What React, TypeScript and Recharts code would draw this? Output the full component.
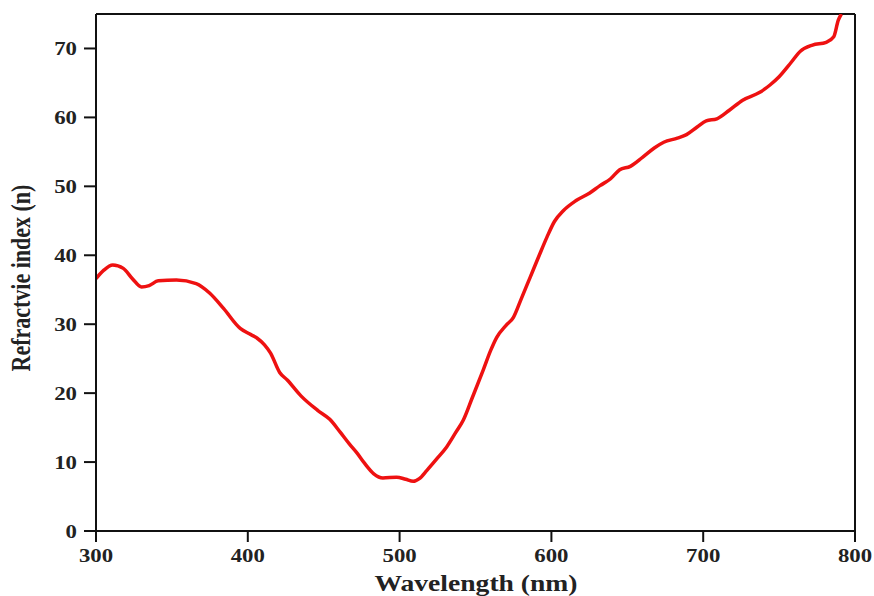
import React from 'react';
import { LineChart, Line, XAxis, YAxis, ReferenceLine } from 'recharts';

const wavelength = [
  300, 305, 311, 318, 324, 330, 335, 341, 353, 366, 375, 384, 395, 401, 406, 411, 415, 421, 426, 435,
  446, 454, 461, 467, 472, 477, 483, 489, 498, 504, 509, 513, 518, 525, 531, 537, 542, 548, 555, 560,
  564, 570, 575, 580, 586, 592, 597, 602, 608, 616, 625, 632, 639, 645, 652, 660, 668, 674, 683, 689,
  696, 702, 709, 717, 726, 737, 744, 750, 758, 764, 772, 781, 786, 789, 791,
];

const refractiveIndex = [
  36.6, 37.8, 38.6, 38.1, 36.6, 35.4, 35.6, 36.3, 36.4, 35.9, 34.5, 32.3, 29.4, 28.6, 28.0, 27.0, 25.8, 23.0, 21.9, 19.6,
  17.5, 16.2, 14.3, 12.6, 11.3, 9.8, 8.3, 7.7, 7.8, 7.5, 7.2, 7.6, 8.8, 10.6, 12.2, 14.3, 16.1, 19.4, 23.3, 26.2,
  28.1, 29.8, 31.0, 33.6, 36.8, 40.0, 42.6, 44.9, 46.5, 47.9, 49.0, 50.1, 51.1, 52.4, 52.9, 54.2, 55.6, 56.4, 57.0, 57.5,
  58.6, 59.5, 59.8, 61.0, 62.5, 63.6, 64.7, 65.9, 68.0, 69.6, 70.5, 70.9, 71.7, 74.1, 75.0,
];

const xTicks = [300, 400, 500, 600, 700, 800];
const yTicks = [0, 10, 20, 30, 40, 50, 60, 70];

const xTitle = 'Wavelength (nm)';
const yTitle = 'Refractvie index (n)';

const data = wavelength.map((w, i) => ({ w, n: refractiveIndex[i] }));

const font = '"Liberation Serif", "Times New Roman", serif';
const ink = '#222';

// the source image is stretched ~1.2x horizontally, so the text is too
const XTick = (props: any) => {
  const { x, y, payload } = props;
  return (
    <text
      transform={`translate(${x},${y}) scale(1.2,1)`}
      textAnchor="middle"
      dy="0.72em"
      fontFamily={font}
      fontWeight={700}
      fontSize={19}
      fill={ink}
    >
      {payload.value}
    </text>
  );
};

const YTick = (props: any) => {
  const { x, y, payload } = props;
  return (
    <text
      transform={`translate(${x},${y}) scale(1.2,1)`}
      textAnchor="end"
      dy="0.36em"
      fontFamily={font}
      fontWeight={700}
      fontSize={19}
      fill={ink}
    >
      {payload.value}
    </text>
  );
};

export default function App() {
  return (
    <div style={{ position: 'absolute', left: 0, top: 0, width: 874, height: 596, background: '#fff' }}>
      <svg width={874} height={596} style={{ position: 'absolute', left: 0, top: 0, pointerEvents: 'none' }}>
        <text
          transform="translate(476,591) scale(1.2,1)"
          textAnchor="middle"
          fontFamily={font}
          fontWeight={700}
          fontSize={23}
          fill={ink}
        >
          {xTitle}
        </text>
        <text
          transform="translate(30,278) scale(1.2,1) rotate(-90)"
          textAnchor="middle"
          fontFamily={font}
          fontWeight={700}
          fontSize={22}
          fill={ink}
        >
          {yTitle}
        </text>
      </svg>
      <LineChart width={874} height={596} data={data} margin={{ top: 14, right: 19, bottom: 15, left: 36 }}>
        <XAxis
          dataKey="w"
          type="number"
          domain={[300, 800]}
          ticks={xTicks}
          allowDataOverflow
          height={50}
          stroke="#111"
          strokeWidth={2}
          tickSize={11}
          tickMargin={6}
          tick={<XTick />}
          tickLine={{ stroke: '#111', strokeWidth: 2 }}
        />
        <YAxis
          type="number"
          domain={[0, 75]}
          ticks={yTicks}
          allowDataOverflow
          width={60}
          stroke="#111"
          strokeWidth={2}
          tickSize={12}
          tickMargin={7}
          tick={<YTick />}
          tickLine={{ stroke: '#111', strokeWidth: 2 }}
        />
        <ReferenceLine y={75} stroke="#111" strokeWidth={2} />
        <ReferenceLine x={800} stroke="#111" strokeWidth={2} />
        <Line
          type="monotone"
          dataKey="n"
          stroke="#ee1111"
          strokeWidth={3.5}
          dot={false}
          isAnimationActive={false}
        />
      </LineChart>
    </div>
  );
}
